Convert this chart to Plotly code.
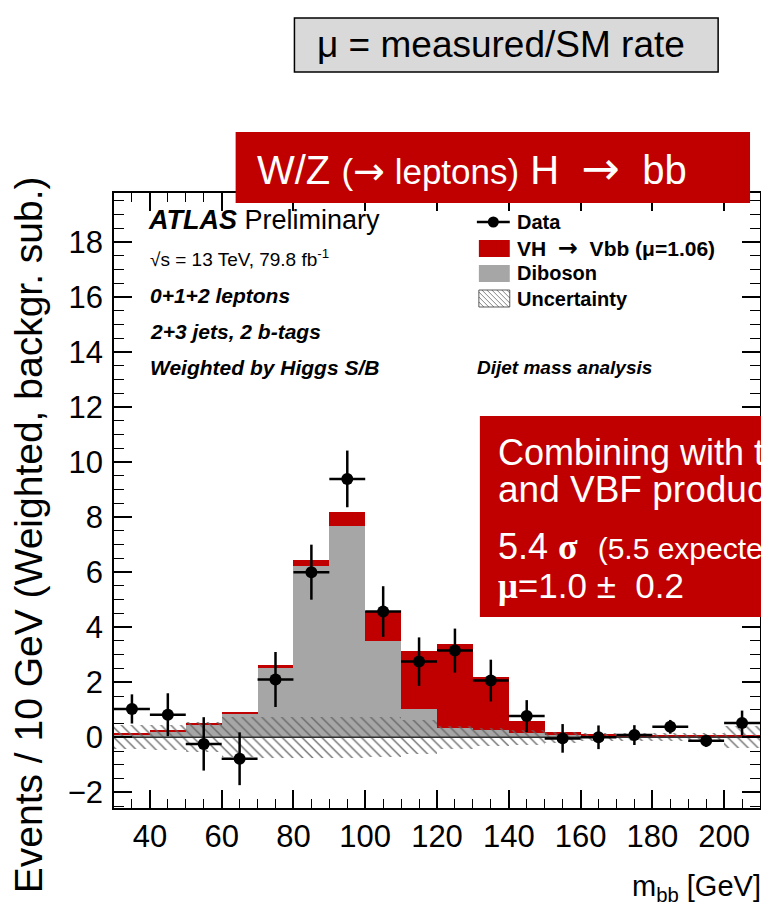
import plotly.graph_objects as go

# ---------------- data ----------------
mbb_centers = [35, 45, 55, 65, 75, 85, 95, 105, 115, 125, 135, 145, 155, 165, 175, 185, 195, 205]
bin_half = 5
data_vals = [1.03, 0.82, -0.24, -0.78, 2.10, 6.00, 9.39, 4.57, 2.75, 3.15, 2.06, 0.77, -0.04, 0.00, 0.08, 0.38, -0.13, 0.52]
data_err = [0.53, 0.78, 0.97, 0.96, 1.00, 1.00, 1.03, 0.92, 0.88, 0.80, 0.76, 0.58, 0.52, 0.43, 0.36, 0.25, 0.22, 0.45]
diboson = [0.10, 0.22, 0.45, 0.88, 2.52, 6.22, 7.67, 3.50, 1.01, 0.34, 0.25, 0.16, 0.08, 0.05, 0.04, 0.03, 0.03, 0.03]
vh_signal = [0.05, 0.05, 0.05, 0.05, 0.11, 0.22, 0.51, 1.08, 2.14, 3.04, 1.93, 0.45, 0.11, 0.07, 0.05, 0.04, 0.02, 0.02]
uncert = [0.43, 0.45, 0.55, 0.72, 0.75, 0.75, 0.75, 0.72, 0.62, 0.42, 0.33, 0.27, 0.20, 0.15, 0.14, 0.14, 0.16, 0.40]

x_ticks = [40, 60, 80, 100, 120, 140, 160, 180, 200]
y_ticks = [-2, 0, 2, 4, 6, 8, 10, 12, 14, 16, 18]

# ---------------- geometry helpers (screen pixel -> paper) ----------------
OFF = 8                      # page body margin
W, H = 769 - OFF, 923 - OFF  # figure size
L, R, T, B = 114, 762, 193, 808   # plot frame in screen pixels


def px(x):
    return (x - L) / (R - L)


def py(y):
    return (B - y) / (B - T)


RED = "#c00000"
GREY = "#a6a6a6"
FONT = "Liberation Sans, Arial, Helvetica, sans-serif"
SERIF = "Liberation Serif, Times New Roman, serif"
ARROWF = "DejaVu Sans, sans-serif"

fig = go.Figure()

# Diboson
fig.add_trace(go.Bar(x=mbb_centers, y=diboson, base=[0] * len(diboson), width=2 * bin_half,
                     marker=dict(color=GREY, line=dict(width=0)), name="Diboson", showlegend=False))
# VH signal stacked on diboson
fig.add_trace(go.Bar(x=mbb_centers, y=vh_signal, base=diboson, width=2 * bin_half,
                     marker=dict(color=RED, line=dict(width=0)), name="VH", showlegend=False))
# Uncertainty band (hatched)
fig.add_trace(go.Bar(x=mbb_centers, y=[2 * u for u in uncert], base=[-u for u in uncert],
                     width=2 * bin_half,
                     marker=dict(color="#606060", line=dict(width=0),
                                 pattern=dict(shape="\\", fillmode="replace", bgcolor="rgba(0,0,0,0)",
                                              fgcolor="#646464", size=7, solidity=0.18)),
                     name="Uncertainty", showlegend=False))
# zero line
fig.add_trace(go.Scatter(x=[mbb_centers[0] - bin_half, mbb_centers[-1] + bin_half], y=[0, 0],
                         mode="lines", line=dict(color="#333333", width=1.5),
                         showlegend=False, hoverinfo="skip"))
# Data
fig.add_trace(go.Scatter(x=mbb_centers, y=data_vals, mode="markers",
                         marker=dict(color="black", size=12),
                         error_y=dict(type="data", array=data_err, color="black", thickness=2.5, width=0),
                         error_x=dict(type="constant", value=bin_half, color="black", thickness=2.5, width=0),
                         name="Data", showlegend=False))

shapes = []
annotations = []

# ---- manual legend ----
shapes.append(dict(type="line", xref="paper", yref="paper", x0=px(478), x1=px(511), y0=py(222), y1=py(222),
                   line=dict(color="black", width=2.5)))
shapes.append(dict(type="circle", xref="paper", yref="paper", x0=px(489), x1=px(500), y0=py(227.5),
                   y1=py(216.5), fillcolor="black", line=dict(color="black", width=0)))
shapes.append(dict(type="rect", xref="paper", yref="paper", x0=px(480), x1=px(511), y0=py(257), y1=py(240),
                   fillcolor=RED, line=dict(width=0)))
shapes.append(dict(type="rect", xref="paper", yref="paper", x0=px(480), x1=px(511), y0=py(282), y1=py(265),
                   fillcolor=GREY, line=dict(width=0)))
# hatched legend key
hx0, hx1, hy0, hy1 = 480, 511, 290, 307
path = ""
step = 5
s = hx0 - (hy1 - hy0)
while s < hx1:
    xa, ya = s, hy0
    xb, yb = s + (hy1 - hy0), hy1
    if xa < hx0:
        ya = hy0 + (hx0 - xa)
        xa = hx0
    if xb > hx1:
        yb = hy1 - (xb - hx1)
        xb = hx1
    path += f"M{px(xa)},{py(ya)} L{px(xb)},{py(yb)} "
    s += step
shapes.append(dict(type="path", xref="paper", yref="paper", path=path, line=dict(color="#666666", width=0.8)))
shapes.append(dict(type="rect", xref="paper", yref="paper", x0=px(hx0), x1=px(hx1), y0=py(hy1), y1=py(hy0),
                   fillcolor="rgba(0,0,0,0)", line=dict(color="#333333", width=0.8)))


def txt(x, y, text, size, color="black", xanchor="left", family=FONT, angle=0):
    annotations.append(dict(xref="paper", yref="paper", x=px(x), y=py(y), text=text, showarrow=False,
                            xanchor=xanchor, yanchor="middle", textangle=angle,
                            font=dict(size=size, color=color, family=family)))


def arrow(size):
    return f"<span style='font-family:{ARROWF};font-size:{size}px'>→</span>"


txt(516, 222, "<b>Data</b>", 20)
txt(516, 248, f"<b>VH  {arrow(24)}  Vbb (μ=1.06)</b>", 21)
txt(516, 273, "<b>Diboson</b>", 20)
txt(516, 299, "<b>Uncertainty</b>", 20)
txt(476, 367, "<b><i>Dijet mass analysis</i></b>", 19)

txt(146, 220, "<b><i>ATLAS</i></b> Preliminary", 27)
txt(148, 258, "√s = 13 TeV, 79.8 fb<sup>-1</sup>", 19)
txt(148, 295, "<b><i>0+1+2 leptons</i></b>", 21)
txt(148, 331, "<b><i>2+3 jets, 2 b-tags</i></b>", 21)
txt(148, 367, "<b><i>Weighted by Higgs S/B</i></b>", 21)

# ---- slide decorations ----
shapes.append(dict(type="rect", xref="paper", yref="paper", x0=px(295), x1=px(720), y0=py(72), y1=py(18),
                   fillcolor="#d9d9d9", line=dict(color="black", width=1.5)))
txt(316, 45, "μ = measured/SM rate", 37)

shapes.append(dict(type="rect", xref="paper", yref="paper", x0=px(236), x1=px(752), y0=py(203), y1=py(132),
                   fillcolor=RED, line=dict(width=0)))
txt(255, 168, f"W/Z <span style='font-size:35px'>({arrow(38)} leptons)</span>"
              f" H  {arrow(46)}  bb", 40, color="white")

shapes.append(dict(type="rect", xref="paper", yref="paper", x0=px(481), x1=px(820), y0=py(617), y1=py(416),
                   fillcolor=RED, line=dict(width=0)))
txt(497, 452, "Combining with ttH", 36, color="white")
txt(497, 489, "and VBF production:", 37, color="white")
txt(497, 546, f"5.4 <span style='font-family:{SERIF}'><b>σ</b></span>  "
              "<span style='font-size:30px'>(5.5 expected)</span>", 36, color="white")
txt(497, 586, f"<span style='font-family:{SERIF}'><b>μ</b></span>=1.0 ±  0.2", 35, color="white")

# axis titles
txt(28, 535, "Events / 10 GeV (Weighted, backgr. sub.)", 39, angle=-90, xanchor="center")
txt(765, 888, "m<sub>bb</sub> [GeV]", 29, xanchor="right")

axis_common = dict(showline=True, linecolor="black", linewidth=1.5, mirror="ticks", ticks="inside",
                   tickcolor="black", tickwidth=1.5, ticklen=18, showgrid=False, zeroline=False,
                   tickfont=dict(size=31, color="black", family=FONT))

fig.update_layout(
    width=W, height=H,
    margin=dict(l=L - OFF, r=769 - R, t=T - OFF, b=923 - B, pad=0),
    paper_bgcolor="white", plot_bgcolor="white",
    font=dict(family=FONT, color="black"),
    barmode="overlay", bargap=0,
    showlegend=False,
    xaxis=dict(range=[mbb_centers[0] - bin_half, mbb_centers[-1] + bin_half],
               tickvals=x_ticks, ticktext=[str(v) for v in x_ticks],
               minor=dict(dtick=5, tick0=0, ticks="inside", ticklen=9, tickcolor="black", tickwidth=1.3),
               **axis_common),
    yaxis=dict(range=[-2.57, 19.78], tickvals=y_ticks,
               ticktext=[("\u2212" + str(-v)) if v < 0 else str(v) for v in y_ticks],
               ticklabelstandoff=3,
               minor=dict(dtick=0.5, tick0=0, ticks="inside", ticklen=10, tickcolor="black", tickwidth=1.3),
               **axis_common),
    shapes=shapes,
    annotations=annotations,
)

fig.write_html("out.html")
